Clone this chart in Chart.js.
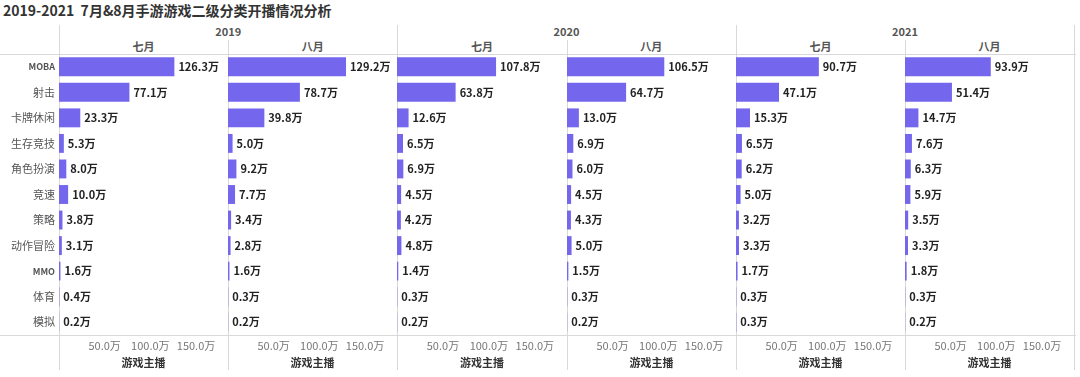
<!DOCTYPE html>
<html>
<head>
<meta charset="utf-8">
<script src="https://cdn.jsdelivr.net/npm/chart.js@4"></script>
<style>
  body { margin: 0; background: #fff; }
  #wrap { position: relative; width: 1080px; height: 377px; overflow: hidden; background: #fff;
          font-family: "Noto Sans CJK SC", "Noto Sans", sans-serif; }
  .title { position: absolute; left: 3px; top: 0px; font-size: 14px; font-weight: bold; color: #333; white-space: pre; }
  .hdr { position: absolute; font-size: 11px; font-weight: bold; color: #555; text-align: center; transform: translateX(-50%); white-space: nowrap; }
  .vl { position: absolute; width: 1px; background: #d9d9d9; }
  .hl { position: absolute; height: 1px; background: #d9d9d9; }
  canvas { position: absolute; }
</style>
</head>
<body>
<div id="wrap">
  <div class="title">2019-2021  7月&amp;8月手游游戏二级分类开播情况分析</div>
</div>
<script>
// categories (rows) and header labels
const categories = ['MOBA', '射击', '卡牌休闲', '生存竞技', '角色扮演', '竞速', '策略', '动作冒险', 'MMO', '体育', '模拟'];
const years = ['2019', '2020', '2021'];
const months = ['七月', '八月'];

// 游戏主播 (万) per panel
const jul2019 = [126.3, 77.1, 23.3, 5.3, 8.0, 10.0, 3.8, 3.1, 1.6, 0.4, 0.2];
const aug2019 = [129.2, 78.7, 39.8, 5.0, 9.2, 7.7, 3.4, 2.8, 1.6, 0.3, 0.2];
const jul2020 = [107.8, 63.8, 12.6, 6.5, 6.9, 4.5, 4.2, 4.8, 1.4, 0.3, 0.2];
const aug2020 = [106.5, 64.7, 13.0, 6.9, 6.0, 4.5, 4.3, 5.0, 1.5, 0.3, 0.2];
const jul2021 = [90.7, 47.1, 15.3, 6.5, 6.2, 5.0, 3.2, 3.3, 1.7, 0.3, 0.3];
const aug2021 = [93.9, 51.4, 14.7, 7.6, 6.3, 5.9, 3.5, 3.3, 1.8, 0.3, 0.2];

// x axis ticks (万)
const xTicks = [50, 100, 150];

const panels = [jul2019, aug2019, jul2020, aug2020, jul2021, aug2021];

Chart.defaults.font.family = '"Noto Sans CJK SC", "Noto Sans", sans-serif';
Chart.defaults.animation = false;

const wrap = document.getElementById('wrap');
const labelW = 59;
const panelW = 169.2;
const top0 = 54;
const barColor = '#7566EE';

function addDiv(cls, style, text) {
    const d = document.createElement('div');
    d.className = cls;
    Object.assign(d.style, style);
    if (text) d.textContent = text;
    wrap.appendChild(d);
    return d;
}

// header: years and months
years.forEach((y, i) => {
    const left = labelW + panelW * 2 * i;
    addDiv('hdr', { left: (left + panelW) + 'px', top: '23px' }, y);
    months.forEach((m, j) => {
        addDiv('hdr', { left: (left + panelW * j + panelW / 2) + 'px', top: '38px' }, m);
    });
});

// grid lines
addDiv('hl', { left: '0px', top: top0 + 'px', width: '1076px' });
addDiv('hl', { left: '0px', top: '335px', width: '1076px' });
for (let i = 0; i <= 6; i++) {
    const x = Math.round(labelW + panelW * i);
    const isYear = i % 2 === 0;
    addDiv('vl', { left: x + 'px', top: (isYear ? 25 : 40) + 'px', height: (isYear ? 345 : 330) + 'px' });
}

// value labels at bar ends
const valueLabels = {
    id: 'valueLabels',
    afterDatasetsDraw(chart) {
        const ctx = chart.ctx;
        const meta = chart.getDatasetMeta(0);
        const data = chart.data.datasets[0].data;
        ctx.save();
        ctx.font = 'bold 11px "Noto Sans CJK SC", sans-serif';
        ctx.fillStyle = '#222';
        ctx.textAlign = 'left';
        ctx.textBaseline = 'middle';
        meta.data.forEach((bar, i) => {
            ctx.fillText(data[i].toFixed(1) + '万', bar.x + 4, bar.y);
        });
        ctx.restore();
    }
};

panels.forEach((values, i) => {
    const first = i === 0;
    const left = first ? 0 : Math.round(labelW + panelW * i);
    const width = first ? Math.round(labelW + panelW) : Math.round(labelW + panelW * (i + 1)) - left;
    const cv = document.createElement('canvas');
    cv.style.left = left + 'px';
    cv.style.top = top0 + 'px';
    cv.style.width = width + 'px';
    cv.style.height = (377 - top0) + 'px';
    cv.width = width;
    cv.height = 377 - top0;
    wrap.appendChild(cv);

    new Chart(cv.getContext('2d'), {
        type: 'bar',
        data: {
            labels: categories,
            datasets: [{
                data: values,
                backgroundColor: barColor,
                barPercentage: 0.74,
                categoryPercentage: 1
            }]
        },
        options: {
            indexAxis: 'y',
            responsive: false,
            maintainAspectRatio: false,
            layout: { padding: 0 },
            plugins: { legend: { display: false }, tooltip: { enabled: false } },
            scales: {
                x: {
                    min: 0,
                    max: 185,
                    afterBuildTicks: s => { s.ticks = xTicks.map(v => ({ value: v })); },
                    afterFit: s => { s.height = 42; s.paddingLeft = 0; s.paddingRight = 0; },
                    grid: { display: false, drawTicks: false },
                    border: { display: false },
                    ticks: {
                        padding: 4,
                        color: '#777',
                        font: { size: 11 },
                        maxRotation: 0,
                        callback: v => v.toFixed(1) + '万'
                    },
                    title: {
                        display: true,
                        text: '游戏主播',
                        color: '#333',
                        font: { size: 11, weight: 'bold' },
                        padding: { top: 0, bottom: 8 }
                    }
                },
                y: {
                    display: first,
                    afterFit: s => {
                        if (first) s.width = labelW;
                        s.paddingTop = 0;
                        s.paddingBottom = 0;
                    },
                    grid: { display: false, drawTicks: false },
                    border: { display: false },
                    ticks: {
                        padding: 4,
                        color: '#555',
                        font: c => {
                            const lbl = categories[c.index];
                            return /^[A-Z]+$/.test(lbl) ? { size: 9, weight: 'bold' } : { size: 11 };
                        }
                    }
                }
            }
        },
        plugins: [valueLabels]
    });
});
</script>
</body>
</html>
